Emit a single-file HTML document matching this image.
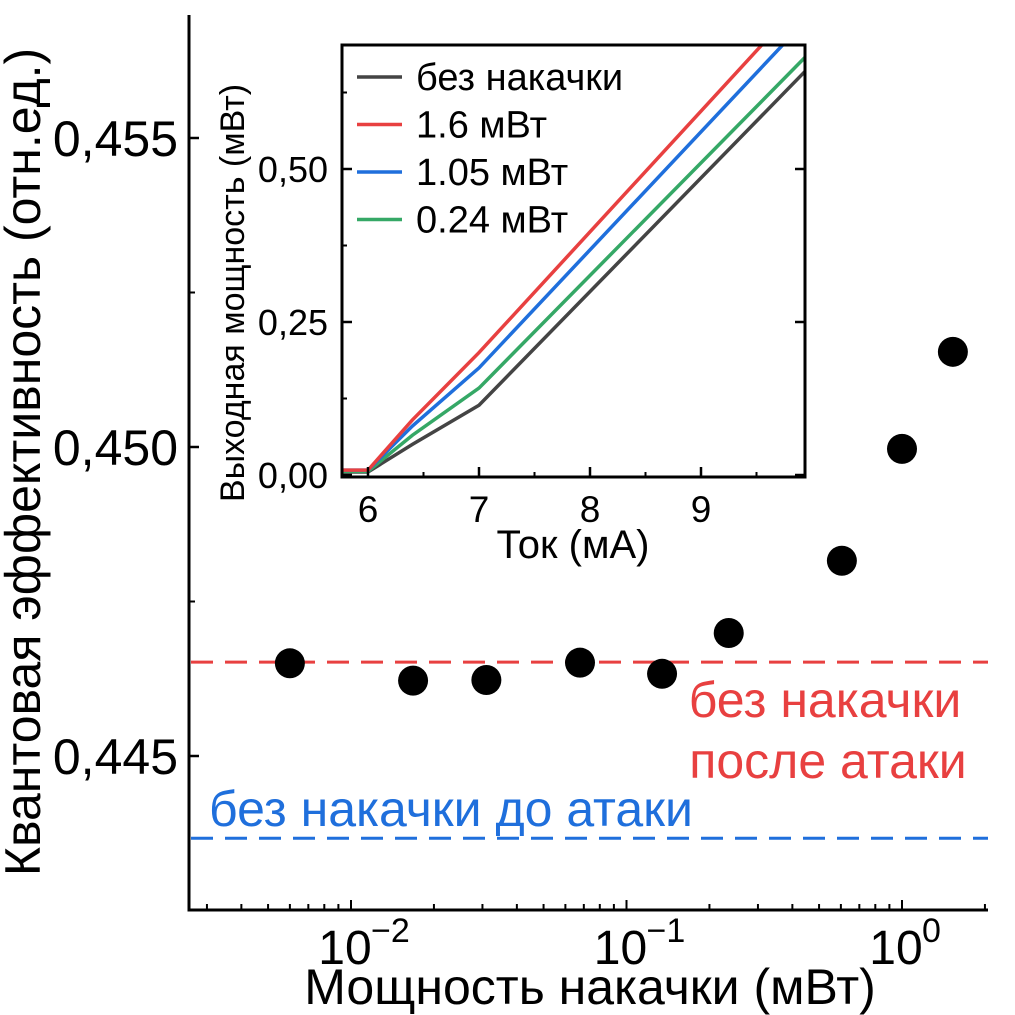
<!DOCTYPE html>
<html><head><meta charset="utf-8"><style>
body{margin:0;background:#fff}
svg{display:block;font-family:"Liberation Sans","DejaVu Sans",sans-serif}
</style></head><body>
<svg id="chart" width="1015" height="1015" viewBox="0 0 1015 1015" xmlns="http://www.w3.org/2000/svg">
<g id="main"></g>
<g id="inset"></g>
</svg>
<script>
// main chart data
const pumpPower = [0.006, 0.0168, 0.031, 0.0678, 0.1346, 0.235, 0.605, 1.0, 1.53];
const efficiency = [0.44650, 0.44622, 0.44623, 0.44651, 0.44633, 0.44699, 0.44816, 0.44997, 0.45154];
const refAfter = 0.44652;
const refBefore = 0.44367;
const yTicks = [0.445, 0.450, 0.455];
const yTickLabels = ["0,445", "0,450", "0,455"];
const xDecades = [-2, -1, 0];
// inset data
const insetX = [5.77, 6.0, 6.4, 7.0, 9.94];
const seriesNames = ["без накачки", "1.6 мВт", "1.05 мВт", "0.24 мВт"];
const seriesColors = ["#444444", "#e84040", "#1f6fdc", "#35a866"];
const seriesBlack = [0.005, 0.005, 0.05, 0.114, 0.66];
const seriesRed = [0.008, 0.008, 0.09, 0.2, 0.78];
const seriesBlue = [0.008, 0.008, 0.08, 0.175, 0.742];
const seriesGreen = [0.006, 0.006, 0.065, 0.142, 0.683];
const insetXTicks = [6, 7, 8, 9];
const insetYTicks = [0, 0.25, 0.5];
const insetYLabels = ["0,00", "0,25", "0,50"];

const NS = "http://www.w3.org/2000/svg";
function mk(parent, tag, attrs, text) {
  const e = document.createElementNS(NS, tag);
  for (const k in attrs) e.setAttribute(k, attrs[k]);
  if (text !== undefined) e.textContent = text;
  parent.appendChild(e);
  return e;
}
const L = 189, R = 988, T = 15, B = 910;
const xs = v => 351 + (Math.log10(v) + 2) * 275.5;
const ys = v => 447 - (v - 0.450) / 0.005 * 309;
const main = document.getElementById('main');
let e;
e = mk(main, 'line', {x1: L, y1: T, x2: L, y2: B + 1.5, stroke: '#000', 'stroke-width': 3});


e = mk(main, 'line', {x1: L - 1.5, y1: B, x2: R, y2: B, stroke: '#000', 'stroke-width': 3});


yTicks.forEach((v, i) => {
  mk(main, 'line', {x1: L, y1: ys(v), x2: L + 10, y2: ys(v), stroke: '#000', 'stroke-width': 2.5});
  e = mk(main, 'text', {x: 178, y: ys(v) + 18, 'text-anchor': 'end', 'font-size': 50}, yTickLabels[i]);
  
  
  const mid = v + 0.0025;
  if (ys(mid) > T) mk(main, 'line', {x1: L, y1: ys(mid), x2: L + 6, y2: ys(mid), stroke: '#000', 'stroke-width': 2});
});
const mid0 = yTicks[0] - 0.0025;
mk(main, 'line', {x1: L, y1: ys(mid0), x2: L + 6, y2: ys(mid0), stroke: '#000', 'stroke-width': 2});
for (let d = -3; d <= 0; d++) {
  for (let m = 1; m <= 9; m++) {
    const v = m * Math.pow(10, d);
    const x = xs(v);
    if (x < L + 2 || x > R) continue;
    mk(main, 'line', {x1: x, y1: B, x2: x, y2: B - (m === 1 ? 10 : 6), stroke: '#000', 'stroke-width': 2});
  }
}
xDecades.forEach(d => {
  const x = xs(Math.pow(10, d));
  e = mk(main, 'text', {x: x - 6, y: 964, 'text-anchor': 'middle', 'font-size': 48}, '10');
  
  
  mk(main, 'text', {x: x + 20, y: 942, 'text-anchor': 'start', 'font-size': 34}, d === 0 ? '0' : '−' + (-d));
});
e = mk(main, 'text', {x: 590, y: 1004, 'text-anchor': 'middle', 'font-size': 50}, 'Мощность накачки (мВт)');


e = mk(main, 'text', {x: 0, y: 0, 'text-anchor': 'middle', 'font-size': 50, transform: 'translate(40,462) rotate(-90)'}, 'Квантовая эффективность (отн.ед.)');


e = mk(main, 'line', {x1: L + 2, y1: ys(refAfter), x2: R, y2: ys(refAfter), stroke: '#e84040', 'stroke-width': 3, 'stroke-dasharray': '22 12'});


e = mk(main, 'line', {x1: L + 2, y1: ys(refBefore), x2: R, y2: ys(refBefore), stroke: '#1f6fdc', 'stroke-width': 3, 'stroke-dasharray': '22 12'});


e = mk(main, 'text', {x: 825, y: 717, 'text-anchor': 'middle', 'font-size': 50, fill: '#e84040'}, 'без накачки');


mk(main, 'text', {x: 828, y: 778, 'text-anchor': 'middle', 'font-size': 50, fill: '#e84040'}, 'после атаки');
e = mk(main, 'text', {x: 209, y: 826, 'font-size': 50, fill: '#1f6fdc'}, 'без накачки до атаки');


pumpPower.forEach((p, i) => {
  e = mk(main, 'circle', {cx: xs(p), cy: ys(efficiency[i]), r: 15, fill: '#000'});
  
  
});
// inset
const iL = 342, iR = 805, iT = 45, iB = 477;
const ix = v => 368 + (v - 6) * 111;
const iy = v => 475 - v / 0.25 * 153;
const ins = document.getElementById('inset');
mk(ins, 'rect', {x: iL, y: iT, width: iR - iL, height: iB - iT, fill: '#fff'});
mk(ins, 'clipPath', {id: 'ic'});
mk(document.getElementById('ic'), 'rect', {x: iL, y: iT, width: iR - iL, height: iB - iT});
const allSeries = [seriesBlack, seriesRed, seriesBlue, seriesGreen];
[0, 3, 2, 1].forEach(si => {
  const pts = insetX.map((x, i) => ix(x) + ',' + iy(allSeries[si][i])).join(' ');
  e = mk(ins, 'polyline', {points: pts, fill: 'none', stroke: seriesColors[si], 'stroke-width': 3.5, 'clip-path': 'url(#ic)'});
  
  
});
e = mk(ins, 'rect', {x: iL, y: iT, width: iR - iL, height: iB - iT, fill: 'none', stroke: '#000', 'stroke-width': 3});


insetXTicks.forEach(v => {
  mk(ins, 'line', {x1: ix(v), y1: iB, x2: ix(v), y2: iB - 10, stroke: '#000', 'stroke-width': 2.5});
  mk(ins, 'line', {x1: ix(v) + 55.5, y1: iB, x2: ix(v) + 55.5, y2: iB - 5, stroke: '#000', 'stroke-width': 2});
  e = mk(ins, 'text', {x: ix(v), y: 522, 'text-anchor': 'middle', 'font-size': 37}, String(v));
  
  
});
insetYTicks.forEach((v, i) => {
  mk(ins, 'line', {x1: iL, y1: iy(v), x2: iL + 10, y2: iy(v), stroke: '#000', 'stroke-width': 2.5});
  mk(ins, 'line', {x1: iR, y1: iy(v), x2: iR - 10, y2: iy(v), stroke: '#000', 'stroke-width': 2.5});
  mk(ins, 'line', {x1: iL, y1: iy(v + 0.125), x2: iL + 5, y2: iy(v + 0.125), stroke: '#000', 'stroke-width': 2});
  e = mk(ins, 'text', {x: 328, y: iy(v) + 13, 'text-anchor': 'end', 'font-size': 36}, insetYLabels[i]);
  
  
});
e = mk(ins, 'text', {x: 573, y: 558, 'text-anchor': 'middle', 'font-size': 40}, 'Ток (мА)');


e = mk(ins, 'text', {x: 0, y: 0, 'text-anchor': 'middle', 'font-size': 34, transform: 'translate(244,293) rotate(-90)'}, 'Выходная мощность (мВт)');


seriesNames.forEach((n, i) => {
  const y = 77 + i * 47.5;
  e = mk(ins, 'line', {x1: 357, y1: y, x2: 402, y2: y, stroke: seriesColors[i], 'stroke-width': 3.5});
  
  
  e = mk(ins, 'text', {x: 416, y: y + 13, 'font-size': 38}, n);
  
  
});
</script>
</body></html>
